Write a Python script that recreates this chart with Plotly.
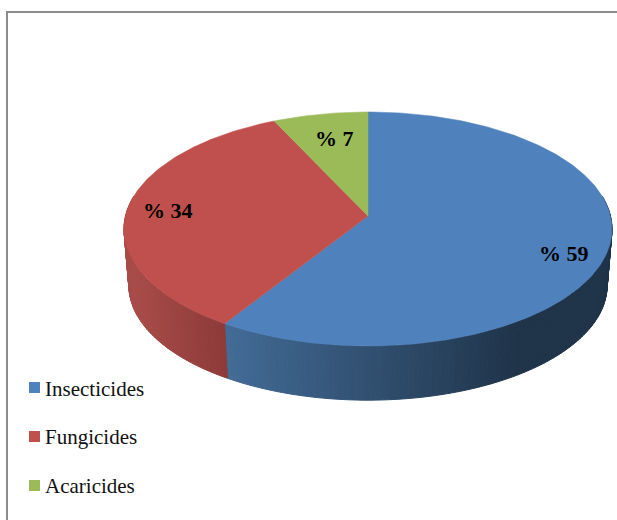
import math
import plotly.graph_objects as go

# Data
categories = ["Insecticides", "Fungicides", "Acaricides"]
values = [59, 34, 7]

# Styling
top_colors = ["#4f81bd", "#c0504d", "#9bbb59"]
FONT = "Liberation Serif"

# Projection of the tilted disc onto pixels
CX, APEX_Y, RADIUS, PERSP, TILT = 368.0, 216.0, 242.5, 0.111, 91.6
MID_Y, BOTTOM_MID_Y, BOTTOM_SCALE = 229.0, 285.5, 0.98


def top_pt(deg):
    t = math.radians(deg)
    u, v = math.sin(t), math.cos(t)
    w = 1 + PERSP * v
    return CX + RADIUS * u / w, (APEX_Y - TILT * v) / w


def bottom_pt(deg):
    x, y = top_pt(deg)
    return CX + BOTTOM_SCALE * (x - CX), BOTTOM_MID_Y + BOTTOM_SCALE * (y - MID_Y)


def lerp_color(c0, c1, f):
    f = max(0.0, min(1.0, f))
    return "rgb(%d,%d,%d)" % tuple(round(a + (b - a) * f) for a, b in zip(c0, c1))


def wall_color(i, x):
    if i == 0:
        return lerp_color((66, 107, 150), (31, 51, 73), (x - 226) / (520 - 226))
    return lerp_color((168, 76, 73), (140, 58, 57), (x - 130) / (226 - 130))


fig = go.Figure()

total = sum(values)
edges = [0.0]
for val in values:
    edges.append(edges[-1] + 360.0 * val / total)

# Side walls: only the front half of the disc shows
STEP = 1.0
for i in range(len(values)):
    a0, a1 = max(edges[i], 80.0), min(edges[i + 1], 280.0)
    if a0 >= a1:
        continue
    n = max(1, int((a1 - a0) / STEP))
    for k in range(n):
        s0 = a0 + (a1 - a0) * k / n
        s1 = a0 + (a1 - a0) * (k + 1) / n
        p = [top_pt(s0), top_pt(s1), bottom_pt(s1), bottom_pt(s0), top_pt(s0)]
        col = wall_color(i, (p[0][0] + p[1][0]) / 2)
        fig.add_trace(go.Scatter(
            x=[q[0] for q in p], y=[q[1] for q in p], mode="lines",
            fill="toself", fillcolor=col, line=dict(color=col, width=1),
            hoverinfo="skip", showlegend=False))

# Top faces
for i, name in enumerate(categories):
    n = max(4, int((edges[i + 1] - edges[i]) / 1.0))
    pts = [top_pt(edges[i] + (edges[i + 1] - edges[i]) * k / n) for k in range(n + 1)]
    pts = [(CX, APEX_Y)] + pts + [(CX, APEX_Y)]
    fig.add_trace(go.Scatter(
        x=[q[0] for q in pts], y=[q[1] for q in pts], mode="lines",
        fill="toself", fillcolor=top_colors[i],
        line=dict(color=top_colors[i], width=0.5),
        name=name, hoverinfo="name", showlegend=False))

# Legend keys
legend_x = [34.5, 34.5, 34.5]
legend_y = [387.5, 436.5, 485.5]
fig.add_trace(go.Scatter(
    x=legend_x, y=legend_y, mode="markers",
    marker=dict(symbol="square", size=11, color=top_colors, line=dict(width=0)),
    hoverinfo="skip", showlegend=False))

annotations = []
for x_, y_, name in zip([43.5, 43.5, 43.5], [388.5, 436.5, 485.5], categories):
    annotations.append(dict(
        x=x_, y=y_, text=name, showarrow=False, xanchor="left", yanchor="middle",
        xref="x", yref="y", font=dict(family=FONT, size=21, color="#111111"),
        borderpad=0))

label_x = [563.5, 167.5, 334.5]
label_y = [253, 210, 138]
for x_, y_, val in zip(label_x, label_y, values):
    annotations.append(dict(
        x=x_, y=y_, text="<b>%% %d</b>" % val, showarrow=False,
        xanchor="center", yanchor="middle", xref="x", yref="y",
        font=dict(family=FONT, size=22, color="#000000"), borderpad=0))

frame = [
    dict(type="line", xref="x", yref="y", x0=6, x1=617, y0=12, y1=12,
         line=dict(color="#8c8c8c", width=2)),
    dict(type="line", xref="x", yref="y", x0=7, x1=7, y0=11, y1=520,
         line=dict(color="#8c8c8c", width=2)),
]

fig.update_layout(
    width=617, height=520, margin=dict(l=0, r=0, t=0, b=0),
    paper_bgcolor="white", plot_bgcolor="white", showlegend=False,
    xaxis=dict(range=[0, 617], visible=False, fixedrange=True),
    yaxis=dict(range=[520, 0], visible=False, fixedrange=True),
    annotations=annotations, shapes=frame,
)

fig.write_html(
    "out.html",
    config={"displayModeBar": False},
    post_script="document.documentElement.style.overflow='hidden';document.body.style.margin='0';",
)
